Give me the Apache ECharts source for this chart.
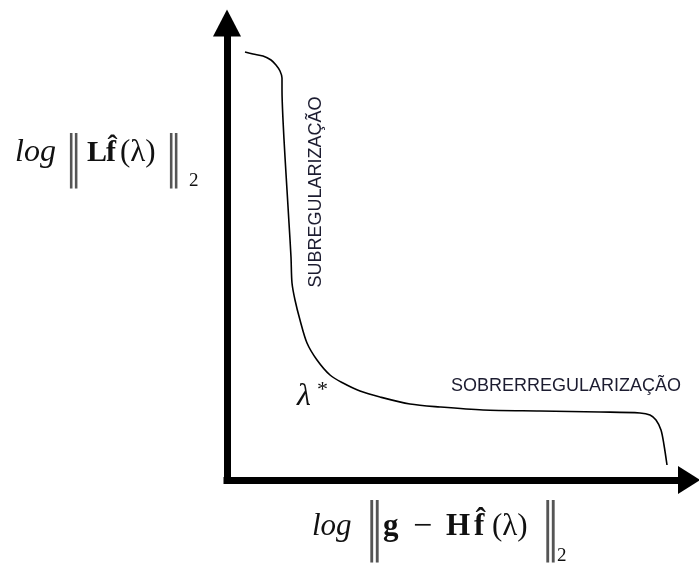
<!DOCTYPE html>
<html>
<head>
<meta charset="utf-8">
<style>
  html, body { margin: 0; padding: 0; background: #fff; }
  #chart { width: 699px; height: 565px; }
</style>
<script src="https://cdn.jsdelivr.net/npm/echarts@6/dist/echarts.min.js"></script>
</head>
<body>
<div id="chart"></div>
<script>
// L-curve: residual norm (x) against solution seminorm (y), both on log scales.
// Units are arbitrary; only the shape of the curve matters.
const curveX = [18, 26, 36, 44, 49, 53, 55, 55, 56, 58, 60, 62, 64, 65, 68, 73, 80, 90, 103, 116, 133, 153, 183, 213, 256, 313, 373, 413, 423, 429, 434, 437, 440];
const curveY = [428, 426, 424, 420, 415, 409, 402, 390, 360, 323, 290, 257, 223, 197, 180, 160, 137, 120, 105, 97, 89, 83, 76, 73, 70, 69, 68, 67, 65, 60, 50, 35, 15];
const axisMaxX = 462;
const axisMaxY = 457;

const regionUnder = 'SUBREGULARIZAÇÃO';
const regionOver = 'SOBRERREGULARIZAÇÃO';

const curveData = curveX.map((x, i) => [x, curveY[i]]);

const serif = '"Liberation Serif", "DejaVu Serif", serif';
const sans = '"Liberation Sans", Arial, sans-serif';
const ink = '#111';
const labelInk = '#1c1c30';

function txt(text, x, y, opts) {
  return {
    type: 'text',
    x: x,
    y: y,
    silent: true,
    scaleX: opts.scaleX || 1,
    scaleY: opts.scaleY || 1,
    rotation: opts.rotation || 0,
    style: {
      text: text,
      fill: opts.fill || ink,
      font: opts.font,
      align: opts.align || 'left',
      verticalAlign: 'middle'
    }
  };
}

const normBars = '\u2016';
const barFont = '56px "DejaVu Sans", sans-serif';
const barFontWide = '62px "DejaVu Sans", sans-serif';

const graphics = [
  // y-axis title: log ||L f^(lambda)||_2
  txt('log', 15, 153, { font: 'italic 32px ' + serif }),
  txt(normBars, 66, 160, { font: barFont, scaleX: 0.55, fill: '#555' }),
  txt('L', 87, 153, { font: 'bold 30px ' + serif }),
  txt('f\u0302', 106, 153, { font: 'bold 30px ' + serif }),
  txt('(\u03bb)', 120, 153, { font: '31px ' + serif }),
  txt(normBars, 166, 160, { font: barFont, scaleX: 0.55, fill: '#555' }),
  txt('2', 189, 181, { font: '19px ' + serif }),

  // x-axis title: log ||g - H f^(lambda)||_2
  txt('log', 312, 527, { font: 'italic 31px ' + serif }),
  txt(normBars, 366, 531, { font: barFontWide, scaleX: 0.55, fill: '#555' }),
  txt('g', 383, 527, { font: 'bold 31px ' + serif }),
  txt('\u2212', 413, 527, { font: '34px ' + serif }),
  txt('H', 446, 527, { font: 'bold 31px ' + serif }),
  txt('f\u0302', 474, 527, { font: 'bold 31px ' + serif }),
  txt('(\u03bb)', 492, 527, { font: '31px ' + serif }),
  txt(normBars, 542, 531, { font: barFontWide, scaleX: 0.55, fill: '#555' }),
  txt('2', 557, 556, { font: '19px ' + serif }),

  // optimal regularization parameter near the corner
  txt('\u03bb', 297, 397, { font: 'italic 32px ' + serif }),
  txt('*', 317, 390, { font: '22px ' + serif }),

  // region annotations
  txt(regionUnder, 316, 192, { font: '18px ' + sans, fill: labelInk, align: 'center', rotation: Math.PI / 2 }),
  txt(regionOver, 451, 386, { font: '18px ' + sans, fill: labelInk })
];

const chart = echarts.init(document.getElementById('chart'), null, { renderer: 'canvas' });

const axisCommon = {
  type: 'value',
  min: 0,
  axisTick: { show: false },
  axisLabel: { show: false },
  splitLine: { show: false },
  axisLine: {
    show: true,
    onZero: false,
    lineStyle: { color: '#000', width: 7, cap: 'square' }
  }
};

chart.setOption({
  backgroundColor: '#fff',
  animation: false,
  grid: { left: 227, right: 10, top: 23, bottom: 85 },
  xAxis: Object.assign({}, axisCommon, {
    max: axisMaxX,
    axisLine: Object.assign({}, axisCommon.axisLine, { symbol: ['none', 'triangle'], symbolSize: [28, 22] })
  }),
  yAxis: Object.assign({}, axisCommon, {
    max: axisMaxY,
    axisLine: Object.assign({}, axisCommon.axisLine, { symbol: ['none', 'triangle'], symbolSize: [28, 27] })
  }),
  series: [{
    type: 'line',
    data: curveData,
    smooth: 0.3,
    showSymbol: false,
    silent: true,
    lineStyle: { color: '#000', width: 1.6 },
    z: 1
  }],
  graphic: graphics
});
</script>
</body>
</html>
